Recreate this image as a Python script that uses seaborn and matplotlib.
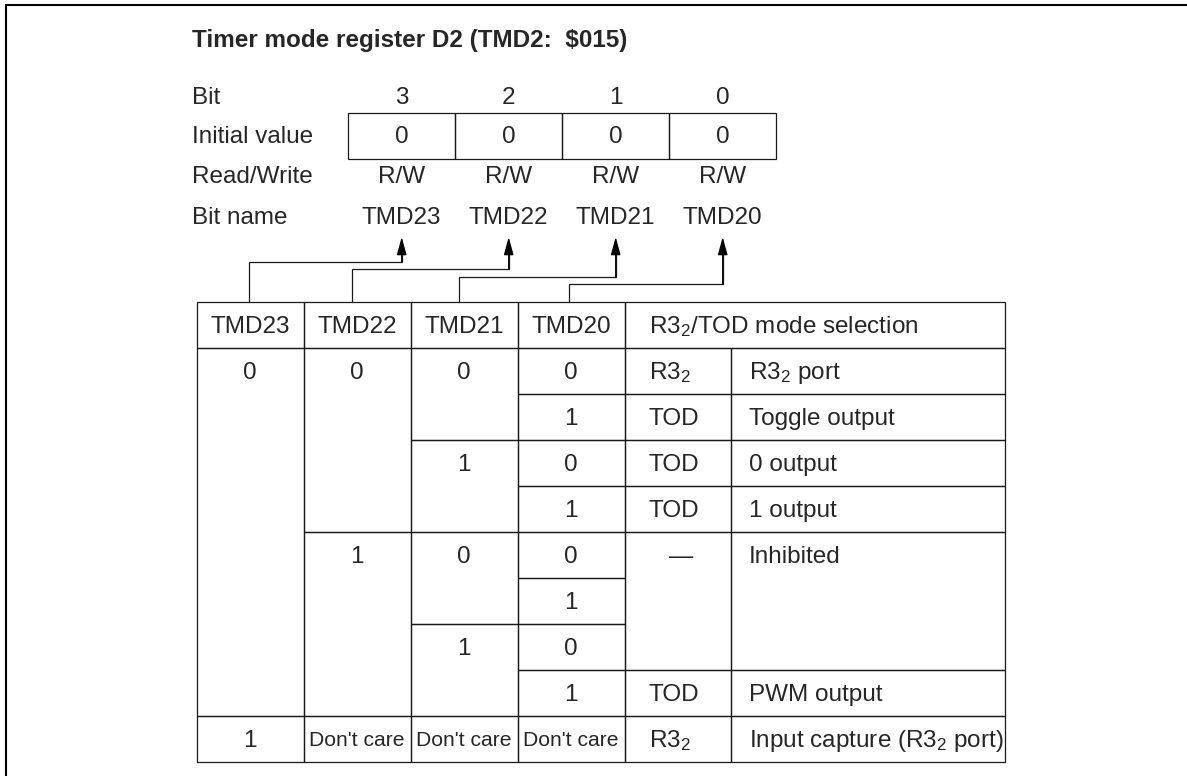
import matplotlib
matplotlib.use("Agg")
import matplotlib.pyplot as plt
from matplotlib.patches import Rectangle
import seaborn as sns

# Register data
title = r"Timer mode register D2 (TMD2:  \$015)"
row_labels = ["Bit", "Initial value", "Read/Write", "Bit name"]
bit_numbers = ["3", "2", "1", "0"]
initial_values = ["0", "0", "0", "0"]
read_write = ["R/W", "R/W", "R/W", "R/W"]
bit_names = ["TMD23", "TMD22", "TMD21", "TMD20"]

# Mode table: (text, first row, row span)
table_header = ["TMD23", "TMD22", "TMD21", "TMD20", "R3$_2$/TOD mode selection"]
tmd23_cells = [("0", 0, 8), ("1", 8, 1)]
tmd22_cells = [("0", 0, 4), ("1", 4, 4), ("Don't care", 8, 1)]
tmd21_cells = [("0", 0, 2), ("1", 2, 2), ("0", 4, 2), ("1", 6, 2), ("Don't care", 8, 1)]
tmd20_cells = [("0", 0, 1), ("1", 1, 1), ("0", 2, 1), ("1", 3, 1),
               ("0", 4, 1), ("1", 5, 1), ("0", 6, 1), ("1", 7, 1), ("Don't care", 8, 1)]
pin_cells = [("R3$_2$", 0, 1), ("TOD", 1, 1), ("TOD", 2, 1), ("TOD", 3, 1),
             ("\u2014", 4, 3), ("TOD", 7, 1), ("R3$_2$", 8, 1)]
desc_cells = [("R3$_2$ port", 0, 1), ("Toggle output", 1, 1), ("0 output", 2, 1),
              ("1 output", 3, 1), ("Inhibited", 4, 3), ("PWM output", 7, 1),
              ("Input capture (R3$_2$ port)", 8, 1)]

sns.set_theme(style="white")
plt.rcParams["font.family"] = ["Liberation Sans", "DejaVu Sans"]
plt.rcParams["mathtext.fontset"] = "custom"
plt.rcParams["mathtext.rm"] = "Liberation Sans"
plt.rcParams["mathtext.default"] = "regular"

W, H = 1187, 776
fig = plt.figure(figsize=(W / 100, H / 100), dpi=100)
ax = fig.add_axes([0, 0, 1, 1])
ax.set_xlim(0, W)
ax.set_ylim(H, 0)
ax.axis("off")

line_c = "#1a1a1a"
lw = 0.9
fs = 17.5

# Outer frame (open at right and bottom)
ax.plot([6, 6, W], [H, 5, 5], color="black", lw=1.5, solid_joinstyle="miter")

ax.text(192, 40, title, fontsize=fs, fontweight="bold", va="center", ha="left")

# Register block
reg_left, reg_w = 348.2, 107
row_y = [98, 137, 177, 218]
for lab, y in zip(row_labels, row_y):
    ax.text(192, y, lab, fontsize=fs, va="center", ha="left")
for i, vals in enumerate([bit_numbers, initial_values, read_write, bit_names]):
    for j, v in enumerate(vals):
        ax.text(reg_left + reg_w * (j + 0.5), row_y[i], v, fontsize=fs, va="center", ha="center")
for j in range(len(initial_values)):
    ax.add_patch(Rectangle((reg_left + reg_w * j, 113.3), reg_w, 46, fill=False, ec=line_c, lw=lw))

# Table geometry
t_left, t_top, rh = 196.7, 301.7, 46
col_w = [107, 107, 107, 107, 106.7, 273.3]
col_x = [t_left]
for w in col_w:
    col_x.append(col_x[-1] + w)
body_top = t_top + rh

# Connectors from table header to bit names
leg_x = [248.5, 352.3, 459.3, 569]
bend_y = [261.7, 269.3, 277.3, 284]
for j in range(4):
    ax_x = reg_left + reg_w * (j + 0.5)
    ax.plot([leg_x[j], leg_x[j], ax_x, ax_x], [t_top, bend_y[j], bend_y[j], 252],
            color=line_c, lw=lw, solid_joinstyle="miter")
    ax.annotate("", xy=(ax_x, 237), xytext=(ax_x, bend_y[j]),
                arrowprops=dict(arrowstyle="-|>,head_length=1.1,head_width=0.3",
                                mutation_scale=10, color="black", lw=lw,
                                shrinkA=0, shrinkB=0))

# Header row
for j, txt in enumerate(table_header[:4]):
    ax.add_patch(Rectangle((col_x[j], t_top), col_w[j], rh, fill=False, ec=line_c, lw=lw))
    ax.text(col_x[j] + col_w[j] / 2, t_top + rh / 2 + 2, txt, fontsize=fs, va="center", ha="center")
ax.add_patch(Rectangle((col_x[4], t_top), col_w[4] + col_w[5], rh, fill=False, ec=line_c, lw=lw))
ax.text(col_x[4] + 24, t_top + rh / 2 + 2, table_header[4], fontsize=fs, va="center", ha="left")

# Body cells
columns = [tmd23_cells, tmd22_cells, tmd21_cells, tmd20_cells, pin_cells, desc_cells]
for j, cells in enumerate(columns):
    for txt, r0, span in cells:
        y0 = body_top + r0 * rh
        ax.add_patch(Rectangle((col_x[j], y0), col_w[j], span * rh, fill=False, ec=line_c, lw=lw))
        ty = y0 + rh / 2 + 2
        size = 15.2 if txt == "Don't care" else fs
        if j < 4:
            ax.text(col_x[j] + col_w[j] / 2, ty, txt, fontsize=size, va="center", ha="center")
        elif j == 4:
            if txt == "\u2014":
                ax.text(col_x[j] + 56, ty, txt, fontsize=size, va="center", ha="center")
            else:
                ax.text(col_x[j] + 24, ty, txt, fontsize=size, va="center", ha="left")
        else:
            ax.text(col_x[j] + 17.6, ty, txt, fontsize=size, va="center", ha="left")

fig.savefig("out.png", dpi=100)
